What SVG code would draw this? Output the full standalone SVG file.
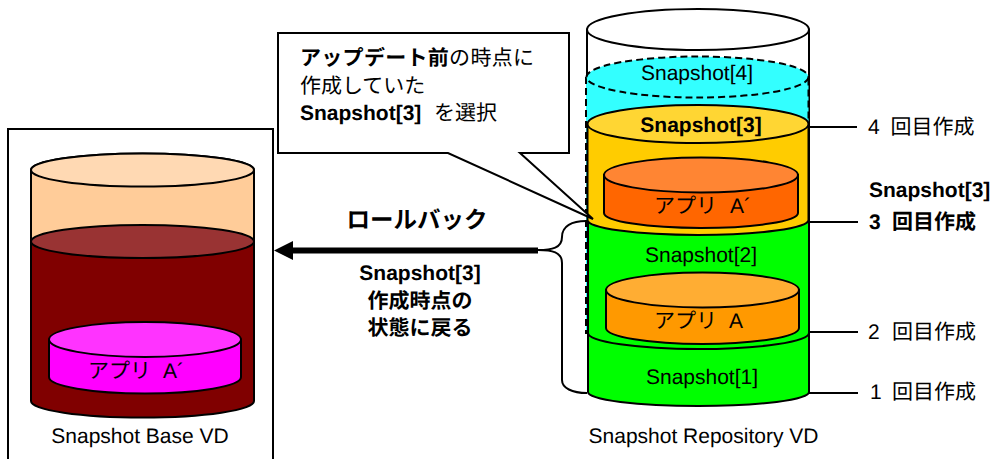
<svg xmlns="http://www.w3.org/2000/svg" width="997" height="459" viewBox="0 0 997 459">
<style>
text{font-family:"Liberation Sans","Noto Sans CJK JP",sans-serif;font-size:21px;fill:#000;text-rendering:geometricPrecision}
.c{text-anchor:middle}
.b{font-weight:700}
.s{stroke:#000;stroke-width:2}
.n{fill:none;stroke:#000;stroke-width:2}
.j{letter-spacing:.3px}
</style>
<rect width="997" height="459" fill="#fff"/>
<g id="base-vd">
<rect x="8" y="129" width="265" height="340" fill="#fff" stroke="#000" stroke-width="2"/>
<path class="s" fill="#ffcc99" d="M31 170V260H254V170A111.500 16.500 0 0 0 31 170Z"/>
<ellipse class="s" fill="#ffd9b3" cx="142.500" cy="170" rx="111.500" ry="16.500"/>
<path class="s" fill="#800000" d="M31 241.500V401A111.500 16.500 0 0 0 254 401V241.500Z"/>
<ellipse class="s" fill="#993333" cx="142.500" cy="241.500" rx="111.500" ry="16.500"/>
<path class="s" fill="#ff00ff" d="M49 339.500V377A96 16.500 0 0 0 241 377V339.500Z"/>
<ellipse class="s" fill="#ff33ff" cx="145" cy="339.500" rx="96" ry="17.500"/>
<text x="88" y="378">アプリ<tspan x="163">A´</tspan></text>
<text class="c" x="140" y="443">Snapshot Base VD</text>
</g>
<g id="repository-vd">
<path class="s" fill="#fff" d="M587 29.500V225H809V29.500Z"/>
<ellipse class="s" fill="#fff" cx="698" cy="29.500" rx="111" ry="20.500"/>
<path fill="#33ffff" stroke="#000" stroke-width="2" stroke-dasharray="7 4" d="M586 77V333H808.500V77"/>
<ellipse fill="#33ffff" stroke="#000" stroke-width="2" stroke-dasharray="7 4" cx="697.500" cy="77" rx="111" ry="20.500"/>
<path fill="#00ff00" d="M588 215H809V392A110.500 14 0 0 1 588 392Z"/>
<path class="n" d="M588 215V392A110.500 14 0 0 0 809 392V215"/>
<path class="n" d="M588 333A110.500 16 0 0 0 809 333"/>
<path class="s" fill="#ffcc00" d="M587.500 124V220A110.500 15 0 0 0 808.500 220V124Z"/>
<ellipse class="s" fill="#ffd633" cx="698" cy="124" rx="110.500" ry="19"/>
<text class="c" x="697" y="80">Snapshot[4]</text>
<text class="c b" x="701" y="132">Snapshot[3]</text>
<text class="c" x="701" y="262">Snapshot[2]</text>
<text class="c" x="702" y="384">Snapshot[1]</text>
<text class="c" x="703.500" y="443">Snapshot Repository VD</text>
</g>
<g id="app-a-prime">
<path class="s" fill="#ff6600" d="M604 175V213A97 15 0 0 0 798 213V175Z"/>
<ellipse class="s" fill="#ff8533" cx="701" cy="175" rx="97" ry="17.500"/>
<text x="654" y="213">アプリ<tspan x="730">A´</tspan></text>
</g>
<g id="app-a">
<path class="s" fill="#ff9900" d="M606 290V328A96.500 16 0 0 0 799 328V290Z"/>
<ellipse class="s" fill="#ffad33" cx="702.500" cy="290" rx="96.500" ry="17.500"/>
<text x="654" y="328">アプリ<tspan x="729">A</tspan></text>
</g>
<g id="callout">
<path class="s" fill="#fff" d="M278 33H569V153H520L593 219L448 153H278Z"/>
<text class="j" x="300" y="65"><tspan class="b">アップデート前</tspan>の時点に</text>
<text x="300" y="93">作成していた</text>
<text x="300" y="120"><tspan class="b">Snapshot[3]</tspan><tspan x="434">を選択</tspan></text>
</g>
<g id="labels">
<text class="c b" x="417" y="228" style="font-size:23.500px">ロールバック</text>
<text class="c b" x="420" y="280">Snapshot[3]</text>
<text class="c b" x="420" y="308">作成時点の</text>
<text class="c b" x="420" y="335">状態に戻る</text>
<text x="868" y="134">4<tspan x="890.500">回目作成</tspan></text>
<text class="b" x="869" y="197">Snapshot[3]</text>
<text class="b" x="869" y="229">3<tspan x="892">回目作成</tspan></text>
<text x="868" y="339">2<tspan x="892">回目作成</tspan></text>
<text x="870" y="399">1<tspan x="892">回目作成</tspan></text>
</g>
<g id="connectors">
<path class="n" d="M809 127H857M809 222H858M809 332H858M809 393H858"/>
<path d="M538 250.500H293" fill="none" stroke="#000" stroke-width="6"/>
<path d="M293 241L274 250.500L293 260Z" fill="#000"/>
<path class="n" d="M538 250C552 250 562 248 562 237C562 226 572 221 586 221M538 250C552 250 562 252 562 263V380C562 388 572 393 587 393"/>
</g>
</svg>
